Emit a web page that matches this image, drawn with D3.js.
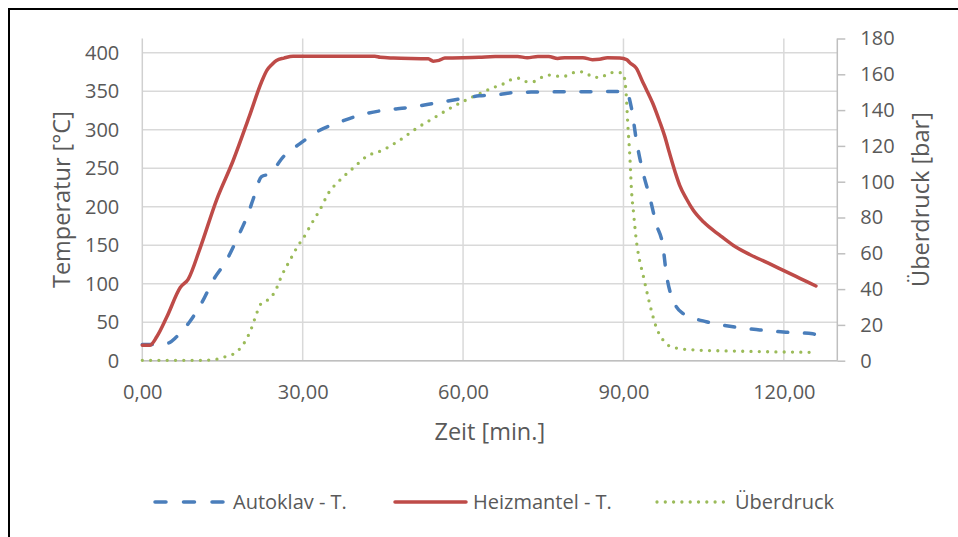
<!DOCTYPE html>
<html>
<head>
<meta charset="utf-8">
<script src="https://cdn.jsdelivr.net/npm/d3@7"></script>
<style>
  body { margin: 0; background: #fff; }
  text { font-family: "Open Sans", sans-serif; fill: #595959; }
</style>
</head>
<body>
<script>
// Zeit [min.] / Temperatur [°C]
var heizTime = [0, 1.4, 2.7, 4.6, 7.1, 8.6, 10.8, 13.9, 17, 20, 22.3, 23.3, 24.3, 25.1, 26.5, 28.2, 35, 43.5, 44.5, 47, 53.5, 54.4, 55.5, 56.6, 63, 66, 70.2, 72, 74, 76, 77.7, 79, 82.4, 84.2, 85.5, 87, 89.3, 90.6, 91.2, 92.4, 93.6, 94.3, 95.5, 96.8, 97.7, 98.6, 99.9, 100.5, 101.8, 103, 105, 108, 110.5, 113.6, 117, 120, 123, 126]
var heizTemp = [20, 20, 31, 57, 95, 106, 146, 209, 260, 317, 362, 377, 385, 390, 393, 395.5, 395.5, 395.5, 394, 393, 392, 389, 390, 393, 394, 395, 395, 393.5, 395, 395, 392.5, 393.5, 393.5, 391, 391.5, 393.5, 393, 391, 387, 380, 362, 352, 334, 310, 292, 270, 240, 228, 210, 196, 180, 163, 150, 138, 127, 117, 107, 97]

var autoTime = [0, 2.4, 4.9, 6.4, 8.9, 11.1, 13.3, 15.8, 17.9, 19.8, 20.7, 22.3, 23.9, 26.4, 29.5, 32.6, 37, 40.7, 45, 50, 54.4, 59.4, 63, 66, 70, 75, 90.5, 91.5, 92.4, 93.6, 94.9, 96.1, 97.4, 98, 99, 99.9, 101.1, 102.4, 105.5, 110.5, 115.5, 120.4, 125.4, 126]
var autoTemp = [21, 21, 23, 31, 51, 75, 105, 131, 161, 191, 209, 239, 243, 265, 282, 297, 310, 319, 325, 329, 334, 340, 344, 345, 348.5, 349, 349.5, 328, 287, 246, 213, 178, 148, 114, 83, 70, 61.5, 57, 50.6, 44, 40, 37, 35, 33.5]

// Überdruck [bar]
var druckTime = [0, 10, 12.7, 13.9, 15.5, 17, 18.3, 19.2, 20.4, 21.4, 22, 24.2, 25.1, 26, 27.6, 29.2, 30.1, 31.7, 33.2, 34.8, 37, 39.4, 41.9, 45, 48.2, 51.3, 54.4, 58.1, 61.9, 65.6, 67.8, 69, 70.6, 71.9, 73.1, 74.7, 75.9, 78.7, 80.3, 81.7, 83.1, 84.3, 85.9, 87.1, 88.7, 89.9, 90.5, 90.8, 91.2, 91.5, 91.9, 92.4, 93, 93.6, 94.3, 95.2, 96.1, 97.4, 98.6, 100.2, 103.3, 110.5, 116.7, 124.8]
var druckBar = [0.2, 0.2, 0.4, 0.8, 2.2, 3.7, 6.9, 10.6, 18, 26.5, 31, 35.8, 40.4, 47, 56, 64.6, 68.4, 76.8, 84.2, 93.5, 101, 107.5, 114, 117.7, 123.3, 129.8, 135.4, 141.9, 147.5, 152.5, 155, 157, 157.8, 155.9, 155.9, 158.3, 159.6, 158.7, 160.6, 161.5, 160.6, 158.3, 158.3, 160.6, 161.1, 160.6, 149.4, 132.6, 114, 95.4, 82.3, 67.4, 56.3, 48.8, 39.5, 28.3, 19, 11.6, 8.2, 6.9, 6, 5.4, 5, 4.7]

var xTicks = [0, 30, 60, 90, 120]
var yLeftTicks = [0, 50, 100, 150, 200, 250, 300, 350, 400]
var yRightTicks = [0, 20, 40, 60, 80, 100, 120, 140, 160, 180]
var seriesNames = ['Autoklav - T.', 'Heizmantel - T.', 'Überdruck']

const box = { width: 958, height: 537, left: 142.3, right: 837.3, top: 38.5, bottom: 360.7 }

const svg = d3.select('body')
  .append('svg')
  .attr('width', box.width)
  .attr('height', box.height)
  .style('display', 'block')

svg.append('rect')
  .attr('x', 9).attr('y', 9)
  .attr('width', 1000).attr('height', 600)
  .attr('fill', '#fff')
  .attr('stroke', '#000')
  .attr('stroke-width', 2)

var x = d3.scaleLinear().domain([0, 130]).range([box.left, box.right])
var yLeft = d3.scaleLinear().domain([0, 400]).range([box.bottom, 52.7])
var yRight = d3.scaleLinear().domain([0, 180]).range([box.bottom, box.top])

// gridlines
svg.append('g').selectAll('line')
  .data(yLeftTicks)
  .join('line')
  .attr('x1', box.left).attr('x2', box.right)
  .attr('y1', d => yLeft(d)).attr('y2', d => yLeft(d))
  .attr('stroke', '#d9d9d9')
  .attr('stroke-width', 1.5)

svg.append('g').selectAll('line')
  .data(xTicks.slice(1))
  .join('line')
  .attr('x1', d => x(d)).attr('x2', d => x(d))
  .attr('y1', box.top).attr('y2', box.bottom)
  .attr('stroke', '#d9d9d9')
  .attr('stroke-width', 1.5)

// axis lines
svg.append('line')
  .attr('x1', box.left).attr('x2', box.left)
  .attr('y1', box.top).attr('y2', box.bottom)
  .attr('stroke', '#d0d0d0').attr('stroke-width', 1.5)
svg.append('line')
  .attr('x1', box.left).attr('x2', box.right)
  .attr('y1', box.bottom).attr('y2', box.bottom)
  .attr('stroke', '#bfbfbf').attr('stroke-width', 1.5)

var fmt = d => d3.format('.2f')(d).replace('.', ',')

var gx = svg.append('g')
  .attr('transform', `translate(0,${box.bottom})`)
  .call(d3.axisBottom(x).tickValues(xTicks).tickFormat(fmt).tickSize(0).tickPadding(24))
var gl = svg.append('g')
  .attr('transform', `translate(${box.left},0)`)
  .call(d3.axisLeft(yLeft).tickValues(yLeftTicks).tickSize(0).tickPadding(23))
var gr = svg.append('g')
  .attr('transform', `translate(${box.right},0)`)
  .call(d3.axisRight(yRight).tickValues(yRightTicks).tickSize(8).tickPadding(15))

;[gx, gl, gr].forEach(g => {
  g.select('.domain').remove()
  g.selectAll('text')
    .style('font-family', '"Open Sans", sans-serif')
    .style('font-size', '20px')
    .attr('fill', '#595959')
})
gr.selectAll('line').attr('stroke', '#bfbfbf').attr('stroke-width', 1.5)
gr.append('line')
  .attr('y1', box.top).attr('y2', box.bottom)
  .attr('stroke', '#bfbfbf').attr('stroke-width', 1.5)

// axis titles
svg.append('text')
  .attr('transform', `translate(70,${(box.top + box.bottom) / 2}) rotate(-90)`)
  .attr('text-anchor', 'middle')
  .style('font-size', '23.5px')
  .text('Temperatur [°C]')
svg.append('text')
  .attr('transform', `translate(929,${(box.top + box.bottom) / 2}) rotate(-90)`)
  .attr('text-anchor', 'middle')
  .style('font-size', '23.5px')
  .text('Überdruck [bar]')
svg.append('text')
  .attr('x', (box.left + box.right) / 2)
  .attr('y', 440)
  .attr('text-anchor', 'middle')
  .style('font-size', '23.5px')
  .text('Zeit [min.]')

// series
var styles = [
  { color: '#4a7ebb', dash: '10,16.7', width: 3.5 },
  { color: '#be4b48', dash: null, width: 3.5 },
  { color: '#9bbb59', dash: '0,8.3', width: 3.3 }
]

var lineL = d3.line().x(d => x(d[0])).y(d => yLeft(d[1])).curve(d3.curveMonotoneX)
var lineR = d3.line().x(d => x(d[0])).y(d => yRight(d[1])).curve(d3.curveMonotoneX)

var series = [
  { pts: d3.zip(autoTime, autoTemp), line: lineL },
  { pts: d3.zip(heizTime, heizTemp), line: lineL },
  { pts: d3.zip(druckTime, druckBar), line: lineR }
]

// draw druck first, then autoklav, heizmantel on top
;[2, 0, 1].forEach(i => {
  svg.append('path')
    .datum(series[i].pts)
    .attr('d', series[i].line)
    .attr('fill', 'none')
    .attr('stroke', styles[i].color)
    .attr('stroke-width', styles[i].width)
    .attr('stroke-dasharray', styles[i].dash)
    .attr('stroke-linecap', 'round')
    .attr('stroke-linejoin', 'round')
})

// legend
var legX = [155, 395, 657]
var leg = svg.append('g').selectAll('g')
  .data(seriesNames)
  .join('g')
  .attr('transform', (d, i) => `translate(${legX[i]},502)`)
leg.append('line')
  .attr('x1', 0).attr('x2', 71)
  .attr('stroke', (d, i) => styles[i].color)
  .attr('stroke-width', (d, i) => styles[i].width)
  .attr('stroke-dasharray', (d, i) => i == 0 ? '11,17.5' : styles[i].dash)
  .attr('stroke-linecap', 'round')
leg.append('text')
  .attr('x', 78)
  .attr('y', 7)
  .style('font-size', '20px')
  .text(d => d)
</script>
</body>
</html>
